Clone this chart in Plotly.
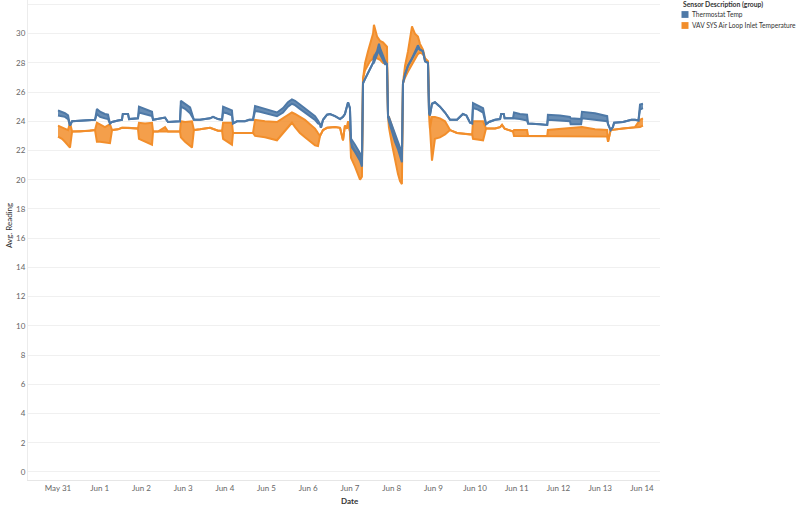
import pandas as pd
import plotly.graph_objects as go

# ---------------- data ----------------
start = pd.Timestamp("2021-05-31 00:00")

tick_labels = ["May 31", "Jun 1", "Jun 2", "Jun 3", "Jun 4", "Jun 5", "Jun 6", "Jun 7",
               "Jun 8", "Jun 9", "Jun 10", "Jun 11", "Jun 12", "Jun 13", "Jun 14"]
y_ticks = [0, 2, 4, 6, 8, 10, 12, 14, 16, 18, 20, 22, 24, 26, 28, 30, 32]

series_names = ["Thermostat Temp", "VAV SYS Air Loop Inlet Temperature"]

# Thermostat Temp: hours since May 31 00:00, low / high of the reading band
thermo_hours = [0, 2.3, 4.0, 5.8, 6.9, 8.1, 12.7, 18.4, 21.3, 22.4, 24.2, 27.0, 28.8, 29.9, 31.1,
                34.5, 36.8, 37.3, 40.3, 40.9, 43.2, 46.0, 46.6, 50.1, 54.1, 54.7, 57.5, 61.6,
                63.3, 67.3, 70.2, 70.7, 73.1, 76.0, 78.2, 81.7, 87.5, 89.2, 92.1, 94.4, 95.0,
                97.2, 100.1, 100.7, 103.0, 107.6, 110.0, 112.2, 113.4, 116.2, 119.1, 122.0,
                126.0, 129.5, 132.3, 134.6, 136.4, 139.2, 142.1, 145.0, 147.9, 149.6, 150.8,
                151.3, 152.5, 154.8, 156.5, 159.4, 162.3, 164.0, 165.1, 166.9, 168.0, 168.6,
                169.2, 170.9, 172.6, 173.8, 174.9, 175.5, 176.7, 178.4, 179.5, 181.3, 181.8,
                183.6, 184.7, 185.3, 187.0, 188.2, 189.3, 189.9, 190.4, 192.2, 193.9, 195.6,
                196.8, 197.9, 198.5, 199.7, 201.4, 203.7, 205.4, 207.1, 208.3, 210.0, 211.2,
                212.9, 213.5, 214.0, 215.2, 216.9, 219.8, 222.7, 225.6, 229.6, 233.0, 235.0,
                237.1, 238.3, 238.8, 241.7, 244.6, 246.3, 248.0, 251.5, 254.4, 255.0, 256.5,
                257.0, 261.8, 262.4, 265.8, 269.9, 270.5, 277.3, 281.5, 281.9, 288.8, 294.6,
                295.0, 301.0, 301.5, 309.0, 316.0, 316.5, 318.0, 319.3, 320.0, 325.1, 330.0,
                332.0, 334.0, 334.9, 336.6]
thermo_lo = [24.4, 24.35, 24.3, 24.15, 23.7, 24.0, 24.05, 24.1, 24.1, 24.5, 24.3, 24.2, 24.15, 23.85, 23.95,
             24.05, 24.1, 24.5, 24.5, 24.15, 24.15, 24.2, 24.6, 24.5, 24.35, 24.1, 24.15, 24.25,
             23.95, 24.0, 24.0, 25.0, 24.85, 24.55, 24.1, 24.1, 24.2, 24.3, 24.15, 24.1, 24.6,
             24.55, 24.4, 23.85, 24.0, 24.0, 24.1, 24.1, 24.7, 24.65, 24.55, 24.45,
             24.35, 24.6, 25.0, 25.2, 25.1, 24.85, 24.6, 24.35, 24.1, 23.85, 23.8,
             23.55, 24.1, 24.45, 24.5, 24.35, 24.15, 24.3, 24.5, 25.3, 24.9, 22.6,
             22.2, 21.9, 21.6, 21.3, 20.9, 26.6, 26.9, 27.3, 27.5, 28.0, 28.0,
             28.5, 28.9, 28.6, 28.2, 27.9, 27.9, 24.3, 24.0, 23.2, 22.6, 22.1,
             21.7, 21.2, 26.6, 27.2, 27.8, 28.3, 28.7, 29.0, 28.9, 28.8, 28.1,
             28.0, 24.6, 24.4, 25.2, 25.3, 25.0, 24.6, 24.1, 24.1, 24.5, 24.4,
             23.9, 23.85, 24.9, 24.8, 24.6, 23.8, 23.95, 24.1, 24.15, 24.5, 24.5,
             24.2, 24.2, 24.2, 24.15, 24.05, 23.85, 23.8, 23.75, 24.1, 24.05, 24.0,
             23.8, 23.8, 24.2, 24.1, 24.0, 23.8, 23.4, 23.6, 23.9, 23.95, 24.1,
             24.1, 24.05, 24.8, 24.9]
thermo_hi = [24.75, 24.65, 24.55, 24.4, 23.7, 24.0, 24.05, 24.1, 24.1, 24.85, 24.65, 24.5, 24.45, 23.85, 23.95,
             24.05, 24.1, 24.5, 24.5, 24.15, 24.15, 24.2, 25.0, 24.85, 24.65, 24.1, 24.15, 24.25,
             23.95, 24.0, 24.0, 25.4, 25.2, 24.95, 24.1, 24.1, 24.2, 24.3, 24.15, 24.1, 25.0,
             24.9, 24.75, 23.85, 24.0, 24.0, 24.1, 24.1, 25.05, 24.95, 24.85, 24.75,
             24.6, 24.9, 25.3, 25.5, 25.4, 25.15, 24.9, 24.65, 24.35, 24.05, 23.8,
             23.55, 24.1, 24.45, 24.5, 24.35, 24.15, 24.3, 24.5, 25.3, 24.9, 22.6,
             22.7, 22.4, 22.1, 21.8, 21.3, 26.6, 26.9, 27.3, 27.5, 28.0, 28.4,
             28.8, 29.3, 29.0, 28.5, 28.1, 27.9, 24.3, 24.3, 23.7, 23.1, 22.6,
             22.2, 21.6, 26.6, 27.2, 27.8, 28.3, 28.7, 29.2, 28.9, 28.8, 28.1,
             28.0, 24.6, 24.4, 25.2, 25.3, 25.0, 24.6, 24.1, 24.1, 24.5, 24.4,
             23.9, 23.85, 25.25, 25.1, 24.9, 23.8, 23.95, 24.1, 24.15, 24.5, 24.5,
             24.2, 24.2, 24.6, 24.5, 24.45, 23.85, 23.8, 23.75, 24.45, 24.4, 24.3,
             24.2, 24.15, 24.65, 24.55, 24.35, 23.8, 23.4, 23.6, 23.9, 23.95, 24.1,
             24.1, 24.05, 25.15, 25.2]

# VAV SYS Air Loop Inlet Temperature
vav_hours = [0, 2.3, 4.0, 5.8, 6.9, 8.1, 12.7, 18.4, 21.3, 22.4, 24.2, 27.0, 29.9, 31.1, 34.5,
             36.8, 40.3, 43.2, 46.0, 46.6, 50.1, 54.1, 54.7, 57.5, 61.6, 63.3, 70.2, 70.7,
             73.1, 77.1, 78.2, 81.7, 87.5, 92.1, 94.4, 95.0, 100.1, 100.7, 112.2, 113.4,
             119.1, 126.0, 129.5, 132.3, 134.6, 136.4, 139.2, 142.1, 145.0, 147.9, 149.6,
             150.8, 152.5, 154.8, 159.4, 162.3, 164.0, 165.1, 166.3, 166.9, 168.0, 168.6,
             170.9, 172.6, 173.8, 174.9, 175.5, 176.7, 178.4, 179.5, 181.3, 181.8, 183.6,
             185.3, 187.0, 189.3, 189.9, 190.4, 192.2, 193.9, 195.6, 196.8, 197.9, 198.5,
             199.7, 201.4, 203.7, 204.3, 205.4, 207.1, 208.3, 210.0, 211.2, 212.9, 213.5,
             214.0, 215.2, 216.9, 219.8, 222.7, 225.6, 229.6, 237.1, 238.3, 238.8, 244.6,
             246.3, 251.5, 254.4, 255.5, 257.0, 261.8, 262.4, 269.9, 270.5, 277.3, 281.5,
             281.9, 294.6, 301.5, 309.0, 316.0, 316.5, 318.0, 325.1, 332.0, 334.9, 336.6]
vav_lo = [22.95, 22.8, 22.6, 22.3, 22.2, 23.3, 23.3, 23.35, 23.4, 22.6, 22.6, 22.55, 22.5, 23.4, 23.45,
          23.55, 23.55, 23.5, 23.5, 22.8, 22.6, 22.4, 23.3, 23.3, 23.3, 23.3, 23.3, 22.9,
          22.6, 22.2, 23.4, 23.45, 23.55, 23.35, 23.35, 22.8, 22.4, 23.2, 23.2, 23.0,
          22.9, 22.7, 23.2, 23.6, 23.9, 23.6, 23.2, 22.9, 22.6, 22.35, 22.3,
          23.0, 23.4, 23.55, 23.6, 23.55, 22.7, 23.7, 23.5, 24.0, 23.3, 21.5,
          20.9, 20.4, 20.0, 20.2, 26.9, 27.5, 27.9, 28.1, 28.3, 28.5, 28.3,
          28.2, 28.0, 27.9, 24.4, 23.6, 22.4, 21.3, 20.4, 19.9, 19.7, 26.6,
          27.0, 27.4, 27.9, 28.0, 28.2, 28.6, 28.7, 28.6, 28.3, 28.1, 24.6,
          23.5, 21.3, 22.8, 22.9, 23.1, 23.4, 23.2, 23.1, 23.1, 22.8, 22.7,
          23.5, 23.5, 23.6, 23.75, 23.5, 23.3, 23.0, 23.0, 23.0, 22.97, 23.0,
          22.95, 23.0, 22.95, 22.95, 22.95, 22.6, 23.4, 23.5, 23.6, 23.6, 23.7]
vav_hi = [23.7, 23.6, 23.5, 23.4, 23.9, 23.3, 23.3, 23.35, 23.4, 23.9, 23.8, 23.6, 23.8, 23.4, 23.45,
          23.55, 23.55, 23.5, 23.5, 23.9, 23.85, 23.9, 23.3, 23.3, 23.6, 23.3, 23.3, 24.0,
          23.95, 24.0, 23.4, 23.45, 23.55, 23.35, 23.35, 23.9, 23.9, 23.2, 23.2, 24.1,
          24.0, 23.95, 24.2, 24.45, 24.6, 24.5, 24.3, 24.1, 23.8, 23.5, 23.2,
          23.0, 23.4, 23.55, 23.6, 23.55, 22.7, 23.7, 23.5, 24.0, 23.3, 22.5,
          22.0, 21.8, 21.5, 21.2, 26.9, 28.0, 28.8, 29.2, 30.0, 30.6, 29.8,
          29.5, 29.4, 29.1, 24.4, 24.3, 23.6, 22.9, 22.4, 22.0, 21.5, 26.6,
          27.8, 28.8, 30.5, 30.3, 30.0, 29.8, 29.3, 28.9, 28.3, 28.1, 24.6,
          23.5, 24.3, 24.3, 24.2, 24.0, 23.4, 23.2, 23.1, 23.1, 24.0, 24.0,
          23.5, 23.5, 23.6, 23.75, 23.5, 23.3, 23.4, 23.4, 23.0, 22.97, 23.0,
          23.4, 23.5, 23.6, 23.45, 23.4, 22.6, 23.4, 23.5, 23.6, 24.1, 24.2]

colors = ["#4e79a7", "#f28e2b"]
fill_colors = ["rgba(78,121,167,0.85)", "rgba(242,142,43,0.85)"]

# ---------------- figure ----------------
def to_dates(hours):
    return [start + pd.Timedelta(hours=h) for h in hours]

fig = go.Figure()

plot_order = [(1, vav_hours, vav_lo, vav_hi), (0, thermo_hours, thermo_lo, thermo_hi)]
for idx, hrs, lo, hi in plot_order:
    xs = to_dates(hrs)
    c = colors[idx]
    fig.add_trace(go.Scatter(x=xs, y=hi, mode="lines", line=dict(color=c, width=2),
                             showlegend=False, hoverinfo="skip"))
    fig.add_trace(go.Scatter(x=xs, y=lo, mode="lines", line=dict(color=c, width=2),
                             fill="tonexty", fillcolor=fill_colors[idx], name=series_names[idx],
                             showlegend=False))

tick_vals = [start + pd.Timedelta(days=i) for i in range(len(tick_labels))]
x_lo = start + pd.Timedelta(hours=-17.26)
x_hi = start + pd.Timedelta(hours=346.4)

font_family = "Lato, 'Open Sans', Arial, sans-serif"

fig.update_layout(
    width=800, height=509,
    margin=dict(l=28, r=140, t=0, b=29),
    paper_bgcolor="white", plot_bgcolor="white",
    font=dict(family=font_family, size=8, color="#666666"),
    showlegend=False,
    xaxis=dict(range=[x_lo, x_hi], tickvals=tick_vals, ticktext=tick_labels,
               showgrid=False, zeroline=False, showline=True, linecolor="#e6e6e6",
               linewidth=1, ticks="", tickfont=dict(size=8, color="#666666")),
    yaxis=dict(range=[-0.55, 32.3], tickvals=y_ticks, showgrid=True, gridcolor="#f0f0f0",
               gridwidth=1, zeroline=False, showline=True, linecolor="#ececec",
               ticks="", tickfont=dict(size=8, color="#666666")),
)


def px_x(px):
    return (px - 28) / 632


def px_y(py):
    return (480 - py) / 480


fig.add_annotation(text="<b>Date</b>", xref="paper", yref="paper",
                   x=px_x(350), y=px_y(501), xanchor="center", yanchor="middle",
                   showarrow=False, font=dict(size=8, color="#333333"))
fig.add_annotation(text="Avg. Reading", xref="paper", yref="paper",
                   x=px_x(9), y=px_y(226), xanchor="center", yanchor="middle",
                   textangle=-90, showarrow=False, font=dict(size=8, color="#333333"))

# legend
fig.add_annotation(text="<b>Sensor Description (group)</b>", xref="paper", yref="paper",
                   x=px_x(681), y=px_y(5), xanchor="left", yanchor="middle",
                   showarrow=False, font=dict(size=6.8, color="#333333"))
for i, name in enumerate(series_names):
    yc = 14.5 + i * 11
    fig.add_shape(type="rect", xref="paper", yref="paper",
                  x0=px_x(681.5), x1=px_x(688.5), y0=px_y(yc - 3.4), y1=px_y(yc + 3.4),
                  fillcolor=colors[i], line=dict(width=0))
    fig.add_annotation(text=name, xref="paper", yref="paper",
                       x=px_x(690), y=px_y(yc), xanchor="left", yanchor="middle",
                       showarrow=False, font=dict(size=6.6, color="#333333"))

fig.write_html("out.html")
